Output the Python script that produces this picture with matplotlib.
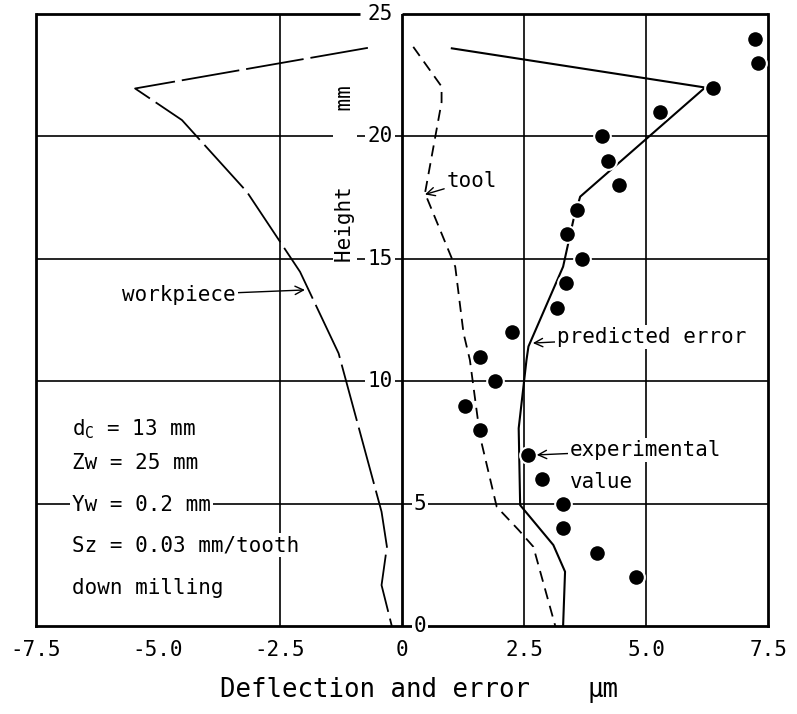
import matplotlib
matplotlib.use("Agg")
import matplotlib.pyplot as plt

plt.rcParams['font.family'] = ['DejaVu Sans Mono']
plt.rcParams['mathtext.fontset'] = 'custom'
plt.rcParams['mathtext.rm'] = 'DejaVu Sans Mono'
plt.rcParams['mathtext.it'] = 'DejaVu Sans Mono'
plt.rcParams['lines.scale_dashes'] = False

# workpiece deflection (left half)
wp_x = [-0.70, -5.47, -4.51, -3.18, -2.09, -1.30, -0.42, -0.31, -0.42, -0.21]
wp_y = [23.62, 21.96, 20.67, 17.74, 14.47, 11.14, 4.67, 3.24, 1.67, 0.0]

# tool deflection
tool_x = [0.23, 0.81, 0.81, 0.47, 1.09, 1.26, 1.39, 1.60, 1.94, 2.39, 2.69, 3.14]
tool_y = [23.66, 22.04, 21.4, 17.68, 14.68, 11.96, 10.87, 7.73, 4.87, 3.92, 3.24, 0.0]

# predicted error
pred_x = [1.02, 6.21, 3.65, 3.51, 3.30, 2.59, 2.55, 2.39, 2.42, 3.10, 3.34, 3.30]
pred_y = [23.6, 22.0, 17.54, 16.58, 14.68, 11.42, 10.87, 8.08, 4.94, 3.31, 2.22, 0.0]

# experimental values
exp_y = [2, 3, 4, 5, 6, 7, 8, 9, 10, 11, 12, 13, 14, 15, 16, 17, 18, 19, 20, 21, 22, 23, 24]
exp_x = [4.80, 3.99, 3.29, 3.29, 2.86, 2.59, 1.60, 1.29, 1.91, 1.60, 2.25, 3.17, 3.35,
         3.68, 3.39, 3.58, 4.45, 4.21, 4.09, 5.29, 6.38, 7.29, 7.23]

x_ticks = [-7.5, -5.0, -2.5, 0, 2.5, 5.0, 7.5]
x_tick_labels = ['-7.5', '-5.0', '-2.5', '0', '2.5', '5.0', '7.5']
y_left_labels = [25, 20, 15, 10]
y_right_labels = [5, 0]
params = ['$\\mathregular{d_C}$ = 13 mm', 'Zw = 25 mm', 'Yw = 0.2 mm',
          'Sz = 0.03 mm/tooth', 'down milling']
params_y = [8.05, 6.66, 4.94, 3.31, 1.55]

fs = 15
white = dict(facecolor='white', edgecolor='none', pad=1.5)

fig = plt.figure(figsize=(7.97, 7.14), dpi=100)
ax = fig.add_axes([0.0452, 0.1232, 0.9185, 0.8571])
ax.set_xlim(-7.5, 7.5)
ax.set_ylim(0, 25)

# frame
for side in ['left', 'right', 'bottom']:
    ax.spines[side].set_linewidth(2.0)
ax.spines['top'].set_visible(False)
ax.plot([-7.5, -0.86], [25, 25], color='black', lw=2.0, clip_on=False, solid_capstyle='butt')
ax.plot([0, 7.5], [25, 25], color='black', lw=2.0, clip_on=False, solid_capstyle='butt')
ax.axvline(0, color='black', lw=2.0, zorder=2)

# grid
for gy in [5, 10, 15, 20]:
    ax.axhline(gy, color='black', lw=1.2, zorder=1)
for gx in [-2.5, 2.5, 5.0]:
    ax.axvline(gx, color='black', lw=1.2, zorder=1)

# curves
ax.plot(wp_x, wp_y, color='black', lw=1.3, dashes=(42, 5), zorder=4)
ax.plot(tool_x, tool_y, color='black', lw=1.3, dashes=(8, 5), zorder=4)
ax.plot(pred_x, pred_y, color='black', lw=1.5, zorder=4)
ax.plot(exp_x, exp_y, 'o', color='black', ms=12, mec='white', mew=1.5, zorder=5)

# axis ticks
ax.set_xticks(x_ticks)
ax.set_xticklabels(x_tick_labels, fontsize=fs)
ax.tick_params(axis='x', length=0, pad=10)
ax.set_yticks([])
for v in y_left_labels:
    ax.text(-0.45, v, str(v), fontsize=fs, ha='center', va='center', bbox=white, zorder=6)
for v in y_right_labels:
    ax.text(0.37, v, str(v), fontsize=fs, ha='center', va='center', bbox=white, zorder=6,
            clip_on=False)

ax.text(-1.17, 18.5, 'Height      mm', fontsize=fs, rotation=90, ha='center', va='center',
        bbox=white, zorder=6)
ax.text(-0.55, -2.61, 'Deflection and error', fontsize=18.5, ha='center', va='center')
ax.text(4.12, -2.61, 'μm', fontsize=18.5, ha='center', va='center')

# parameters
for txt, ty in zip(params, params_y):
    ax.text(-6.76, ty, txt, fontsize=fs, ha='left', va='center', bbox=white, zorder=6)

# annotations
arrow = dict(arrowstyle='->', color='black', lw=1.0, shrinkA=0, shrinkB=0)
ax.annotate('workpiece', xy=(-1.99, 13.73), xytext=(-5.74, 13.52), fontsize=fs,
            ha='left', va='center', arrowprops=arrow, bbox=white, zorder=6)
ax.annotate('tool', xy=(0.47, 17.63), xytext=(0.92, 18.2), fontsize=fs,
            ha='left', va='center', arrowprops=arrow, zorder=6)
ax.annotate('predicted error', xy=(2.68, 11.56), xytext=(3.18, 11.8), fontsize=fs,
            ha='left', va='center', arrowprops=arrow, bbox=white, zorder=6)
ax.annotate('experimental', xy=(2.76, 6.99), xytext=(3.44, 7.19), fontsize=fs,
            ha='left', va='center', arrowprops=arrow, bbox=white, zorder=6)
ax.text(3.44, 5.88, 'value', fontsize=fs, ha='left', va='center', bbox=white, zorder=6)

fig.savefig('out.png', dpi=100)
